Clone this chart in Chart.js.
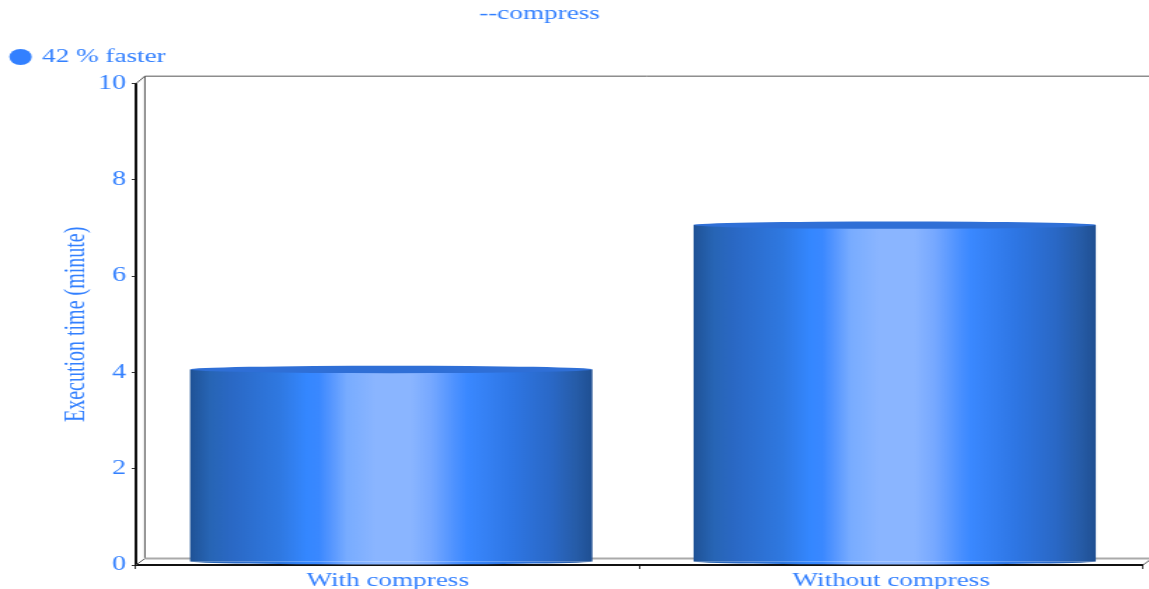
<!DOCTYPE html>
<html>
<head>
<meta charset="utf-8">
<title>--compress</title>
<script src="https://cdn.jsdelivr.net/npm/chart.js@4"></script>
<style>
    html, body { margin: 0; background: #fff; overflow: hidden; }
    /* the chart is laid out narrow and widened, which gives the wide lettering */
    #chart { display: block; transform: scaleX(1.4012); transform-origin: 0 0; }
</style>
</head>
<body>
<canvas id="chart" width="820" height="589"></canvas>
<script>
const categories = ['With compress', 'Without compress'];
const minutes = [4, 7];
const seriesName = '42 % faster';
const chartTitle = '--compress';
const yTitle = 'Execution time (minute)';

const blue = '#3380ff';
const textFont = { family: '"Liberation Serif"', size: 19.4 };

// depth of the fake 3D box
const depthX = 6.4;
const depthY = 6.5;
const wallTopY = 7.5;
const barOffsetX = 2.5;
const barOffsetY = -3;

function cylinderGradient(ctx, left, right) {
    const g = ctx.createLinearGradient(left, 0, right, 0);
    g.addColorStop(0, '#1f5296');
    g.addColorStop(0.05, '#2765b5');
    g.addColorStop(0.1, '#2a68c4');
    g.addColorStop(0.22, '#2f78e0');
    g.addColorStop(0.29, '#3487ff');
    g.addColorStop(0.32, '#3a88ff');
    g.addColorStop(0.35, '#5596ff');
    g.addColorStop(0.39, '#78acff');
    g.addColorStop(0.46, '#8ab5ff');
    g.addColorStop(0.55, '#8ab5ff');
    g.addColorStop(0.6, '#76a8ff');
    g.addColorStop(0.66, '#4c91ff');
    g.addColorStop(0.69, '#3a88ff');
    g.addColorStop(0.8, '#2e76e4');
    g.addColorStop(0.9, '#2a68c6');
    g.addColorStop(0.96, '#265ca8');
    g.addColorStop(1, '#1f4f92');
    return g;
}

const boxPlugin = {
    id: 'box3d',
    beforeInit(chart) {
        // leave a gap between the legend row and the plot
        const legend = chart.legend;
        const fit = legend.fit;
        legend.fit = function () {
            fit.call(legend);
            legend.height += 7;
        };
    },
    afterLayout(chart) {
        // title sits left of the canvas centre
        const block = chart.titleBlock;
        block.right = 2 * 385 - block.left;
    },
    beforeDatasetsDraw(chart) {
        const { ctx, chartArea: a, width } = chart;
        ctx.save();
        ctx.lineWidth = 1;
        ctx.strokeStyle = '#555';
        ctx.beginPath();
        ctx.moveTo(a.left, a.top);
        ctx.lineTo(a.left + depthX, a.top - wallTopY);
        ctx.lineTo(width, a.top - wallTopY);
        ctx.moveTo(a.left + depthX, a.top - wallTopY);
        ctx.lineTo(a.left + depthX, a.bottom - depthY);
        ctx.moveTo(a.left, a.bottom);
        ctx.lineTo(a.left + depthX, a.bottom - depthY);
        ctx.moveTo(a.right, a.bottom);
        ctx.lineTo(a.right + depthX, a.bottom - depthY);
        ctx.stroke();
        ctx.strokeStyle = '#aaa';
        ctx.lineWidth = 2;
        ctx.beginPath();
        ctx.moveTo(a.left + depthX, a.bottom - depthY);
        ctx.lineTo(width, a.bottom - depthY);
        ctx.stroke();
        ctx.restore();
    },
    beforeDatasetDraw(chart) {
        chart.ctx.save();
        chart.ctx.translate(barOffsetX, barOffsetY);
    },
    afterDatasetDraw(chart, args) {
        const ctx = chart.ctx;
        args.meta.data.forEach((bar) => {
            const rx = bar.width / 2;
            // rounded foot of the cylinder
            ctx.fillStyle = cylinderGradient(ctx, bar.x - rx, bar.x + rx);
            ctx.beginPath();
            ctx.ellipse(bar.x, bar.base, rx, 3, 0, 0, Math.PI);
            ctx.fill();
            // flat lid
            ctx.fillStyle = '#2f6fd6';
            ctx.beginPath();
            ctx.ellipse(bar.x, bar.y, rx, 3.7, 0, 0, Math.PI * 2);
            ctx.fill();
        });
        ctx.restore();
    }
};

const barPercentage = 0.799;

new Chart(document.getElementById('chart'), {
    type: 'bar',
    data: {
        labels: categories,
        datasets: [{
            label: seriesName,
            data: minutes,
            barPercentage: barPercentage,
            categoryPercentage: 1,
            backgroundColor: (c) => {
                const { chart, dataIndex } = c;
                if (!chart.chartArea) return blue;
                const x = chart.scales.x;
                const half = x.width / categories.length * barPercentage / 2;
                const mid = x.getPixelForValue(dataIndex);
                return cylinderGradient(chart.ctx, mid - half, mid + half);
            }
        }]
    },
    plugins: [boxPlugin],
    options: {
        responsive: false,
        animation: false,
        layout: { padding: { left: 0, right: 4.3, top: 2, bottom: 0 } },
        plugins: {
            title: {
                display: true,
                text: chartTitle,
                color: blue,
                font: { family: textFont.family, size: 19.4, weight: 'normal' },
                padding: { top: 0, bottom: 13 }
            },
            legend: {
                position: 'top',
                align: 'start',
                labels: {
                    color: blue,
                    font: textFont,
                    usePointStyle: true,
                    pointStyle: 'circle',
                    boxHeight: 11.3,
                    boxWidth: 11.3,
                    padding: 9,
                    generateLabels: () => [{
                        text: seriesName,
                        fontColor: blue,
                        fillStyle: blue,
                        strokeStyle: blue,
                        lineWidth: 0,
                        pointStyle: 'circle',
                        datasetIndex: 0
                    }]
                }
            },
            tooltip: { enabled: false }
        },
        scales: {
            x: {
                afterFit: (s) => { s.height = 24; },
                border: { color: '#111', width: 2 },
                grid: { drawOnChartArea: false, offset: true, color: '#333', tickLength: 4 },
                ticks: { color: blue, font: textFont, padding: 0, maxRotation: 0 }
            },
            y: {
                min: 0,
                max: 10,
                afterFit: (s) => { s.width = 97; },
                border: { color: '#111', width: 2 },
                grid: { drawOnChartArea: false, color: '#333', tickLength: 3 },
                ticks: { color: blue, font: { family: textFont.family, size: 20 }, stepSize: 2, padding: 4 },
                title: {
                    display: true,
                    text: yTitle,
                    color: blue,
                    font: { family: textFont.family, size: 20 },
                    padding: { top: 43, bottom: 0 }
                }
            }
        }
    }
});
</script>
</body>
</html>
